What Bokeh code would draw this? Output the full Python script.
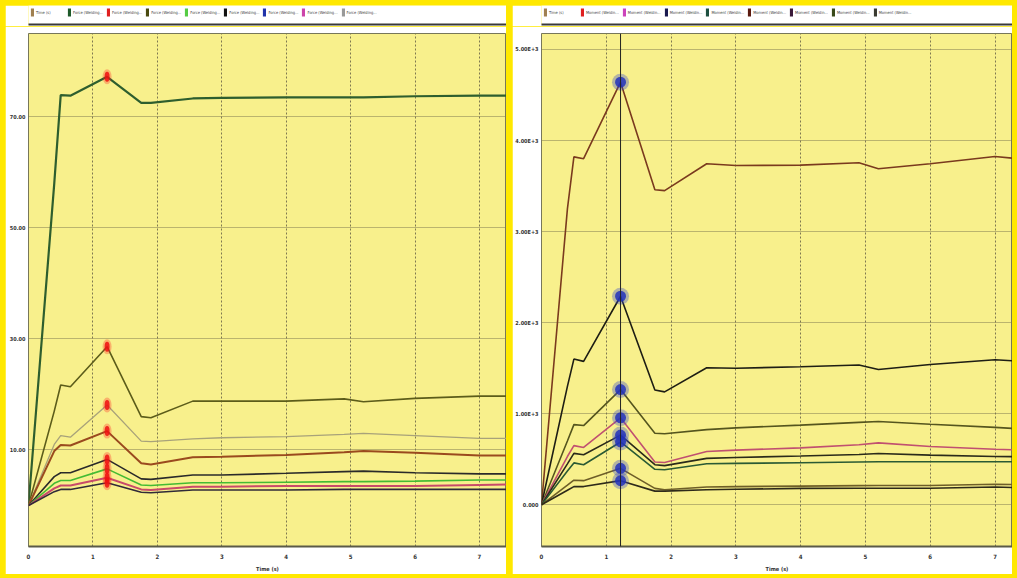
from bokeh.plotting import figure
from bokeh.layouts import row, column
from bokeh.models import FixedTicker, Legend, LegendItem, Span
from bokeh.embed import file_html
from bokeh.resources import INLINE

# ---------------- data ----------------
TIME = [0, 0.4, 0.5, 0.65, 1.22, 1.75, 1.9, 2.55, 3.0, 4.0, 4.9, 5.2, 6.0, 7.0, 7.5]
PEAK_TIME = 1.22

FORCE_GREEN = [0, 58.0, 73.9, 73.8, 77.2, 72.5, 72.5, 73.3, 73.4, 73.5, 73.5, 73.5, 73.7, 73.8, 73.8]
FORCE_OLIVE = [0, 17.0, 21.7, 21.4, 28.6, 16.0, 15.8, 18.8, 18.8, 18.8, 19.2, 18.7, 19.3, 19.7, 19.7]
FORCE_GRAY = [0, 11.0, 12.6, 12.3, 18.1, 11.6, 11.5, 12.0, 12.2, 12.4, 12.8, 13.0, 12.6, 12.1, 12.1]
FORCE_RED = [0, 9.8, 10.9, 10.8, 13.4, 7.6, 7.4, 8.7, 8.8, 9.1, 9.6, 9.8, 9.5, 9.0, 9.0]
FORCE_BLACK = [0, 5.2, 5.9, 5.9, 8.3, 4.8, 4.7, 5.5, 5.5, 5.8, 6.1, 6.2, 5.9, 5.7, 5.7]
FORCE_LGREEN = [0, 4.0, 4.5, 4.5, 6.6, 3.7, 3.6, 4.1, 4.1, 4.2, 4.3, 4.3, 4.4, 4.6, 4.6]
FORCE_MAGENTA = [0, 3.1, 3.6, 3.6, 5.0, 2.9, 2.8, 3.4, 3.4, 3.5, 3.5, 3.5, 3.5, 3.7, 3.8]
FORCE_BLUE = [0, 2.5, 2.9, 2.9, 4.1, 2.4, 2.3, 2.8, 2.8, 2.8, 2.9, 2.9, 2.9, 2.9, 2.9]

MOMENT_1 = [0, 3250, 3820, 3800, 4640, 3460, 3450, 3745, 3725, 3730, 3755, 3690, 3745, 3825, 3790]
MOMENT_2 = [0, 1300, 1600, 1575, 2290, 1260, 1240, 1505, 1500, 1515, 1535, 1485, 1540, 1593, 1571]
MOMENT_3 = [0, 700, 880, 870, 1265, 785, 780, 825, 845, 875, 905, 915, 885, 850, 830]
MOMENT_4 = [0, 530, 650, 630, 955, 470, 465, 585, 600, 625, 660, 680, 640, 610, 600]
MOMENT_5 = [0, 450, 565, 550, 765, 440, 430, 510, 520, 535, 553, 564, 545, 530, 527]
MOMENT_6 = [0, 370, 460, 440, 690, 390, 385, 450, 455, 462, 470, 473, 473, 473, 473]
MOMENT_7 = [0, 215, 270, 265, 400, 180, 165, 195, 200, 205, 210, 212, 212, 225, 220]
MOMENT_8 = [0, 160, 200, 200, 265, 150, 150, 165, 170, 180, 182, 182, 182, 195, 185]

X_TICKS = [0, 1, 2, 3, 4, 5, 6, 7]
X_LABELS = ["0", "1", "2", "3", "4", "5", "6", "7"]
LEFT_Y_TICKS = [10, 30, 50, 70]
LEFT_Y_LABELS = ["10.00", "30.00", "50.00", "70.00"]
RIGHT_Y_TICKS = [0, 1000, 2000, 3000, 4000, 5000]
RIGHT_Y_LABELS = ["0.000", "1.00E+3", "2.00E+3", "3.00E+3", "4.00E+3", "5.00E+3"]

LEFT_LEGEND = ["Time (s)"] + ["Force (Welding..."] * 8
RIGHT_LEGEND = ["Time (s)"] + ["Moment (Weldin..."] * 8
X_TITLE = "Time (s)"

# ---------------- styles ----------------
PLOT_BG = "#F8F08C"
FRAME_YELLOW = "#FFE800"
GRID = "#7E7850"
NARROW = "Liberation Sans Narrow, DejaVu Sans Condensed, Liberation Sans"

LEFT_SERIES = [
    (FORCE_GREEN, "#2E5E2E", 2.2),
    (FORCE_OLIVE, "#5C5C1A", 1.6),
    (FORCE_GRAY, "#A8A27A", 1.3),
    (FORCE_RED, "#9A4A1E", 2.0),
    (FORCE_BLACK, "#2A2A2A", 1.6),
    (FORCE_LGREEN, "#44BB33", 1.6),
    (FORCE_MAGENTA, "#C84A6A", 2.0),
    (FORCE_BLUE, "#302A38", 1.6),
]
LEFT_SWATCHES = ["#A08050", "#1E5A2A", "#E02020", "#4A4A10", "#55CC44",
                 "#111111", "#2233AA", "#CC44AA", "#999999"]

RIGHT_SERIES = [
    (MOMENT_1, "#7A3A1E", 1.6),
    (MOMENT_2, "#1E1E14", 1.6),
    (MOMENT_3, "#55551E", 1.6),
    (MOMENT_4, "#C05070", 1.6),
    (MOMENT_5, "#2A2A1A", 1.6),
    (MOMENT_6, "#2A5A34", 1.6),
    (MOMENT_7, "#6E5E28", 1.6),
    (MOMENT_8, "#2E2A1A", 1.6),
]
RIGHT_SWATCHES = ["#A08050", "#E02020", "#CC44BB", "#1A1A50", "#1E5040",
                  "#5A1A10", "#3A1A3A", "#3A4A1A", "#3A3A30"]


def make_legend_strip(labels, swatches, width):
    lf = figure(width=width, height=21, x_range=(0, 1), y_range=(0, 1),
                output_backend="svg", toolbar_location=None,
                y_axis_location=None,
                min_border_left=0, min_border_right=0,
                min_border_top=0, min_border_bottom=2,
                background_fill_color="white", border_fill_color="white",
                outline_line_color=None)
    lf.xgrid.visible = False
    lf.ygrid.visible = False
    xa = lf.xaxis[0]
    xa.ticker = FixedTicker(ticks=[])
    xa.axis_line_color = "#3A3A3A"
    xa.axis_line_width = 2
    xa.major_tick_out = 0
    xa.major_tick_in = 0
    xa.minor_tick_out = 0
    xa.minor_tick_in = 0
    xa.major_label_standoff = 0

    items = []
    for i, (lbl, c) in enumerate(zip(labels, swatches)):
        r = lf.rect(x=[float("nan")], y=[float("nan")], width=1, height=1,
                    fill_color=c, line_color=None)
        text = lbl + "       " if i == 0 else lbl
        items.append(LegendItem(label=text, renderers=[r]))
    legend = Legend(items=items, location="top_left",
                    orientation="horizontal", glyph_width=4, glyph_height=10,
                    label_height=10, label_width=28, label_standoff=2,
                    spacing=3, padding=1, margin=2,
                    background_fill_color="white", background_fill_alpha=1,
                    border_line_color=None, label_text_font_size="4px",
                    label_text_font=NARROW, label_text_color="#444444")
    lf.add_layout(legend)
    return lf


def make_panel(series, y_ticks, y_labels, width, x_end, y_range, marker):
    p = figure(width=width, height=548, x_range=(0, x_end), y_range=y_range,
               output_backend="svg", toolbar_location=None,
               min_border_left=23, min_border_right=0,
               min_border_top=7, min_border_bottom=25,
               background_fill_color=PLOT_BG, border_fill_color="white",
               outline_line_color="#77775A", outline_line_width=1)

    xa = p.xaxis[0]
    xa.ticker = FixedTicker(ticks=X_TICKS)
    xa.major_label_overrides = {t: l for t, l in zip(X_TICKS, X_LABELS)}
    xa.major_label_text_font_size = "6px"
    xa.major_label_text_font_style = "bold"
    xa.major_label_text_font = NARROW
    xa.major_label_text_color = "#333333"
    xa.major_label_standoff = 7
    xa.major_tick_out = 0
    xa.major_tick_in = 0
    xa.minor_tick_out = 0
    xa.minor_tick_in = 0
    xa.axis_line_color = "#5A5A48"
    xa.axis_line_width = 2
    xa.axis_label = X_TITLE
    xa.axis_label_text_font_size = "5.5px"
    xa.axis_label_text_font_style = "bold"
    xa.axis_label_text_font = NARROW
    xa.axis_label_text_color = "#333333"
    xa.axis_label_standoff = 4

    ya = p.yaxis[0]
    ya.ticker = FixedTicker(ticks=y_ticks)
    ya.major_label_overrides = {t: l for t, l in zip(y_ticks, y_labels)}
    ya.major_label_text_font_size = "5.5px"
    ya.major_label_text_font_style = "bold"
    ya.major_label_text_font = NARROW
    ya.major_label_text_color = "#333333"
    ya.major_label_standoff = 3
    ya.major_tick_out = 0
    ya.major_tick_in = 0
    ya.minor_tick_out = 0
    ya.minor_tick_in = 0
    ya.axis_line_color = None

    p.xgrid.grid_line_color = GRID
    p.xgrid.grid_line_dash = "2 2"
    p.xgrid.grid_line_width = 1
    p.ygrid.grid_line_color = GRID
    p.ygrid.grid_line_dash = "1 1"
    p.ygrid.grid_line_width = 1

    for ys, color, w in series:
        p.line(TIME, ys, line_color=color, line_width=w)

    idx = TIME.index(PEAK_TIME)
    peaks = [s[0][idx] for s in series]
    px = [PEAK_TIME] * len(peaks)
    if marker == "red":
        p.ellipse(px, peaks, width=9, height=15, width_units="screen",
                  height_units="screen", fill_color="#FF2020", fill_alpha=0.3,
                  line_color=None)
        p.ellipse(px, peaks, width=5, height=10, width_units="screen",
                  height_units="screen", fill_color="#EE1010", fill_alpha=0.85,
                  line_color=None)
    else:
        p.add_layout(Span(location=PEAK_TIME, dimension="height",
                          line_color="#222222", line_width=1))
        p.scatter(px, peaks, size=17, fill_color="#3344CC", fill_alpha=0.35,
                  line_color=None)
        p.scatter(px, peaks, size=11, fill_color="#2233BB", fill_alpha=0.85,
                  line_color=None)
    return p


leg1 = make_legend_strip(LEFT_LEGEND, LEFT_SWATCHES, 501)
p1 = make_panel(LEFT_SERIES, LEFT_Y_TICKS, LEFT_Y_LABELS, 501, 7.42,
                (-7.38, 85.0), "red")
leg2 = make_legend_strip(RIGHT_LEGEND, RIGHT_SWATCHES, 500)
p2 = make_panel(RIGHT_SERIES, RIGHT_Y_TICKS, RIGHT_Y_LABELS, 500, 7.27,
                (-458, 5175), "blue")
leg1.margin = (5, 3, 0, 5)
p1.margin = (0, 3, 4, 5)
leg2.margin = (5, 5, 0, 3)
p2.margin = (0, 5, 4, 3)

layout = row(column(leg1, p1), column(leg2, p2),
             styles={"background-color": FRAME_YELLOW})

open("out.html", "w").write(file_html(layout, INLINE))
